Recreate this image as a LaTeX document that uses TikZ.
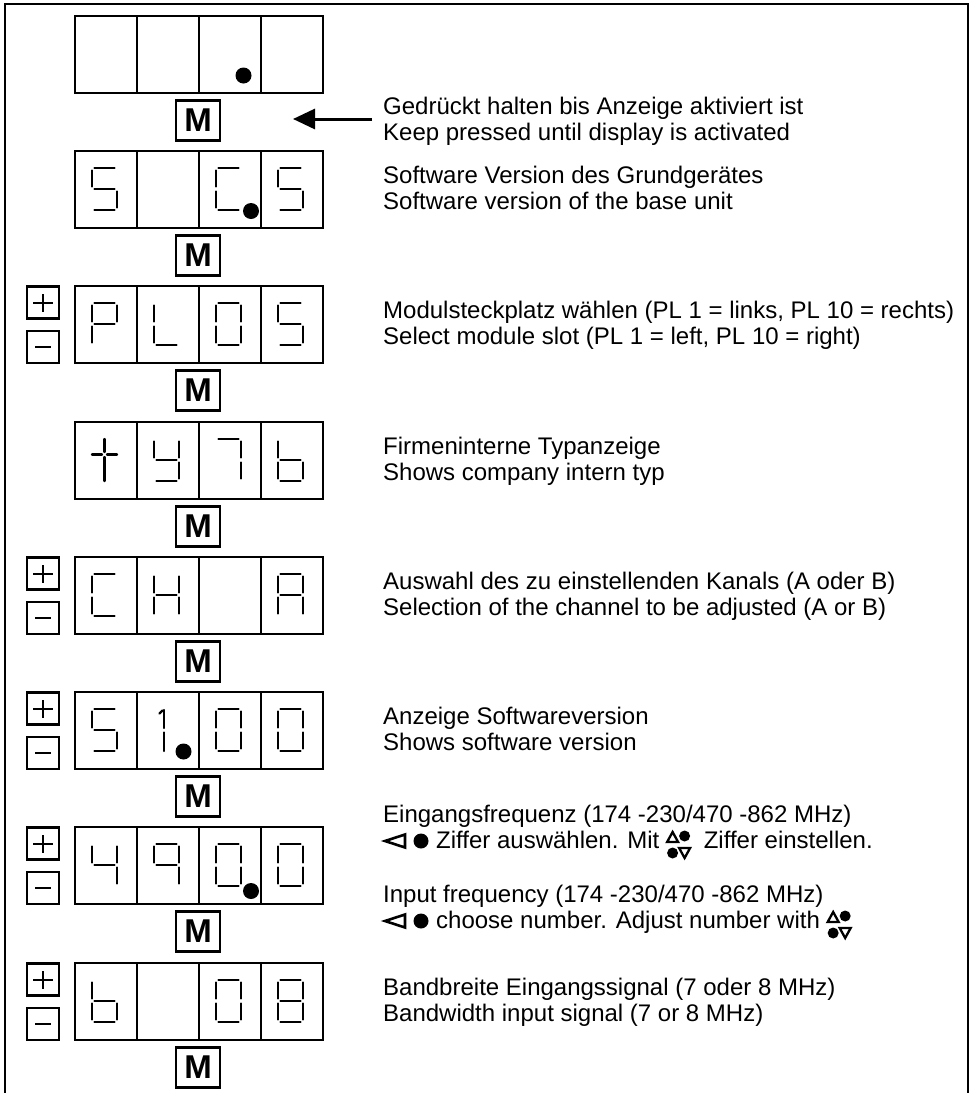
\documentclass[tikz,border=0pt]{standalone}
\usepackage{fontspec}
\setmainfont{Liberation Sans}
\usetikzlibrary{arrows.meta,calc}

\tikzset{
  frame/.style={line width=1.8pt},
  dispbox/.style={draw, line width=2.8pt, minimum width=248pt, minimum height=77pt, inner sep=0pt},
  divider/.style={line width=2.8pt},
  seg/.style={line width=2.4pt, line cap=round},
  mkey/.style={draw, line width=2.4pt, minimum width=44pt, minimum height=40pt, inner sep=0pt,
    font=\bfseries\fontsize{33}{33}\selectfont},
  pmkey/.style={draw, line width=2.4pt, minimum size=32pt, inner sep=0pt},
  pmsign/.style={line width=2pt},
  txt/.style={anchor=base west, inner sep=0pt, font=\fontsize{24}{26}\selectfont},
  pointer/.style={line width=3pt, -{Triangle[length=22pt,width=20pt]}},
  symline/.style={line width=2.6pt, line join=miter},
  smallsym/.style={line width=2.3pt, line join=miter},
}

% seven-segment pieces, in a 62 x 77 cell (y grows downwards)
\newcommand\SgA{\draw[seg] (19.5,17) -- (39.5,17);}
\newcommand\SgB{\draw[seg] (42,19.5) -- (42,35.5);}
\newcommand\SgC{\draw[seg] (42,40.5) -- (42,56.5);}
\newcommand\SgD{\draw[seg] (19.5,59) -- (39.5,59);}
\newcommand\SgE{\draw[seg] (17,40.5) -- (17,56.5);}
\newcommand\SgF{\draw[seg] (17,19.5) -- (17,35.5);}
\newcommand\SgG{\draw[seg] (19.5,38) -- (39.5,38);}
% the cross-shaped "t"
\newcommand\SgT{\draw[seg] (29.5,17) -- (29.5,30); \draw[seg] (29.5,35) -- (29.5,59);
  \draw[seg] (17,32.5) -- (27,32.5); \draw[seg] (32,32.5) -- (42,32.5);}
% the narrow "1" with its flag
\newcommand\SgI{\draw[seg] (27,18) -- (27,36); \draw[seg] (27,40.5) -- (27,59);
  \draw[seg] (22.5,21.5) -- (25.5,18.5);}

\newcommand\digit[3]{\begin{scope}[shift={(#1,#2)}]\foreach \s in {#3}{\csname Sg\s\endcsname}\end{scope}}

% four-cell display frame with its dividers
\newcommand\display[2]{%
  \node[dispbox] (#1) at (199,#2+38.5) {};
  \foreach \dx in {137,199,261} \draw[divider] (\dx,#2) -- (\dx,#2+77);
}

% plus / minus keys beside a display
\newcommand\pmkeys[2]{%
  \node[pmkey] (plus#1) at (43,#2+16.5) {};
  \node[pmkey] (minus#1) at (43,#2+61) {};
  \draw[pmsign] ([xshift=-10pt]plus#1.center) -- ([xshift=10pt]plus#1.center);
  \draw[pmsign] ([yshift=-9pt]plus#1.center) -- ([yshift=9pt]plus#1.center);
  \draw[pmsign] ([xshift=-8pt]minus#1.center) -- ([xshift=8pt]minus#1.center);
}

% "cursor left / dot" selector mark, starting at x=383 on baseline #1
\newcommand\selmark[2]{%
  \draw[symline] (385,#1-7) -- (405,#1-13.5) -- (405,#1-0.5) -- cycle;
  \fill (421,#1-7) circle (7.5pt);
  \coordinate (#2) at (436,#1);
}

% stacked up/down adjust mark, left column centred at coordinate #1
\newcommand\adjmark[1]{%
  \draw[smallsym] ($(#1)+(-5.5,-6)$) -- ($(#1)+(5.5,-6)$) -- ($(#1)+(0,-16)$) -- cycle;
  \fill ($(#1)+(12,-12)$) circle (5.5pt);
  \fill ($(#1)+(0,5)$) circle (5.5pt);
  \draw[smallsym] ($(#1)+(6.5,0)$) -- ($(#1)+(17.5,0)$) -- ($(#1)+(12,10)$) -- cycle;
}

\begin{document}
\begin{tikzpicture}[x=1pt,y=-1pt]
\useasboundingbox (0,0) rectangle (973,1093);

% outer frame, open at the bottom
\draw[frame] (5,1093) -- (5,4) -- (968,4) -- (968,1093);

% ---- row 1: blank display
\display{d1}{16}
\fill (243.5,75.5) circle (8pt);
\node[mkey] (m1) at (198,120.5) {M};
\coordinate (tail) at (372,119);
\coordinate (tip) at (293,119);
\draw[pointer] (tail) -- (tip);
\node[txt] (t1a) at (383,114) {Gedrückt halten bis Anzeige aktiviert ist};
\node[txt] (t1b) at (383,140) {Keep pressed until display is activated};

% ---- row 2: S C.5
\display{d2}{151}
\digit{75}{151}{A,F,G,C,D}
\digit{199}{151}{A,F,E,D}
\digit{261}{151}{A,F,G,C,D}
\fill (251,211) circle (8pt);
\node[mkey] (m2) at (198,255.5) {M};
\node[txt] (t2a) at (383,183.5) {Software Version des Grundgerätes};
\node[txt] (t2b) at (383,209.5) {Software version of the base unit};

% ---- row 3: PL05
\pmkeys{3}{286}
\display{d3}{286}
\digit{75}{286}{A,B,F,G,E}
\digit{137}{286}{F,E,D}
\digit{199}{286}{A,B,C,D,E,F}
\digit{261}{286}{A,F,G,C,D}
\node[mkey] (m3) at (198,390.5) {M};
\node[txt] (t3a) at (383,318.5) {Modulsteckplatz wählen (PL 1 = links, PL 10 = rechts)};
\node[txt] (t3b) at (383,344.5) {Select module slot (PL 1 = left, PL 10 = right)};

% ---- row 4: ty7b
\display{d4}{422}
\digit{75}{422}{T}
\digit{137}{422}{B,C,D,F,G}
\digit{199}{422}{A,B,C}
\digit{261}{422}{F,E,G,C,D}
\node[mkey] (m4) at (198,526.5) {M};
\node[txt] (t4a) at (383,454.5) {Firmeninterne Typanzeige};
\node[txt] (t4b) at (383,480.5) {Shows company intern typ};

% ---- row 5: CH A
\pmkeys{5}{557}
\display{d5}{557}
\digit{75}{557}{A,F,E,D}
\digit{137}{557}{F,E,B,C,G}
\digit{261}{557}{A,B,C,E,F,G}
\node[mkey] (m5) at (198,661.5) {M};
\node[txt] (t5a) at (383,589.5) {Auswahl des zu einstellenden Kanals (A oder B)};
\node[txt] (t5b) at (383,615.5) {Selection of the channel to be adjusted (A or B)};

% ---- row 6: S1.00
\pmkeys{6}{692}
\display{d6}{692}
\digit{75}{692}{A,F,G,C,D}
\digit{137}{692}{I}
\digit{199}{692}{A,B,C,D,E,F}
\digit{261}{692}{A,B,C,D,E,F}
\fill (183.5,751.5) circle (8pt);
\node[mkey] (m6) at (198,796.5) {M};
\node[txt] (t6a) at (383,724.5) {Anzeige Softwareversion};
\node[txt] (t6b) at (383,750.5) {Shows software version};

% ---- row 7: 490.0
\pmkeys{7}{827}
\display{d7}{827}
\digit{75}{827}{F,G,B,C}
\digit{137}{827}{A,B,C,F,G}
\digit{199}{827}{A,B,C,D,E,F}
\digit{261}{827}{A,B,C,D,E,F}
\fill (251,891) circle (8pt);
\node[mkey] (m7) at (198,931.5) {M};
\node[txt] (t7a) at (383,822) {Eingangsfrequenz (174 -230/470 -862 MHz)};
\selmark{848}{s7b}
\node[txt] (t7b) at (s7b) {Ziffer auswählen. Mit};
\coordinate (a7b) at ($(t7b.base east)+(13,0)$);
\adjmark{a7b}
\node[txt] (t7c) at ($(a7b)+(31,0)$) {Ziffer einstellen.};
\node[txt] (t7d) at (383,902) {Input frequency (174 -230/470 -862 MHz)};
\selmark{928}{s7e}
\node[txt] (t7e) at (s7e) {choose number. Adjust number with};
\coordinate (a7e) at ($(t7e.base east)+(13,0)$);
\adjmark{a7e}

% ---- row 8: b 08
\pmkeys{8}{963}
\display{d8}{963}
\digit{75}{963}{F,E,G,C,D}
\digit{199}{963}{A,B,C,D,E,F}
\digit{261}{963}{A,B,C,D,E,F,G}
\node[mkey] (m8) at (198,1067.5) {M};
\node[txt] (t8a) at (383,995.5) {Bandbreite Eingangssignal (7 oder 8 MHz)};
\node[txt] (t8b) at (383,1021.5) {Bandwidth input signal (7 or 8 MHz)};
\end{tikzpicture}
\end{document}
